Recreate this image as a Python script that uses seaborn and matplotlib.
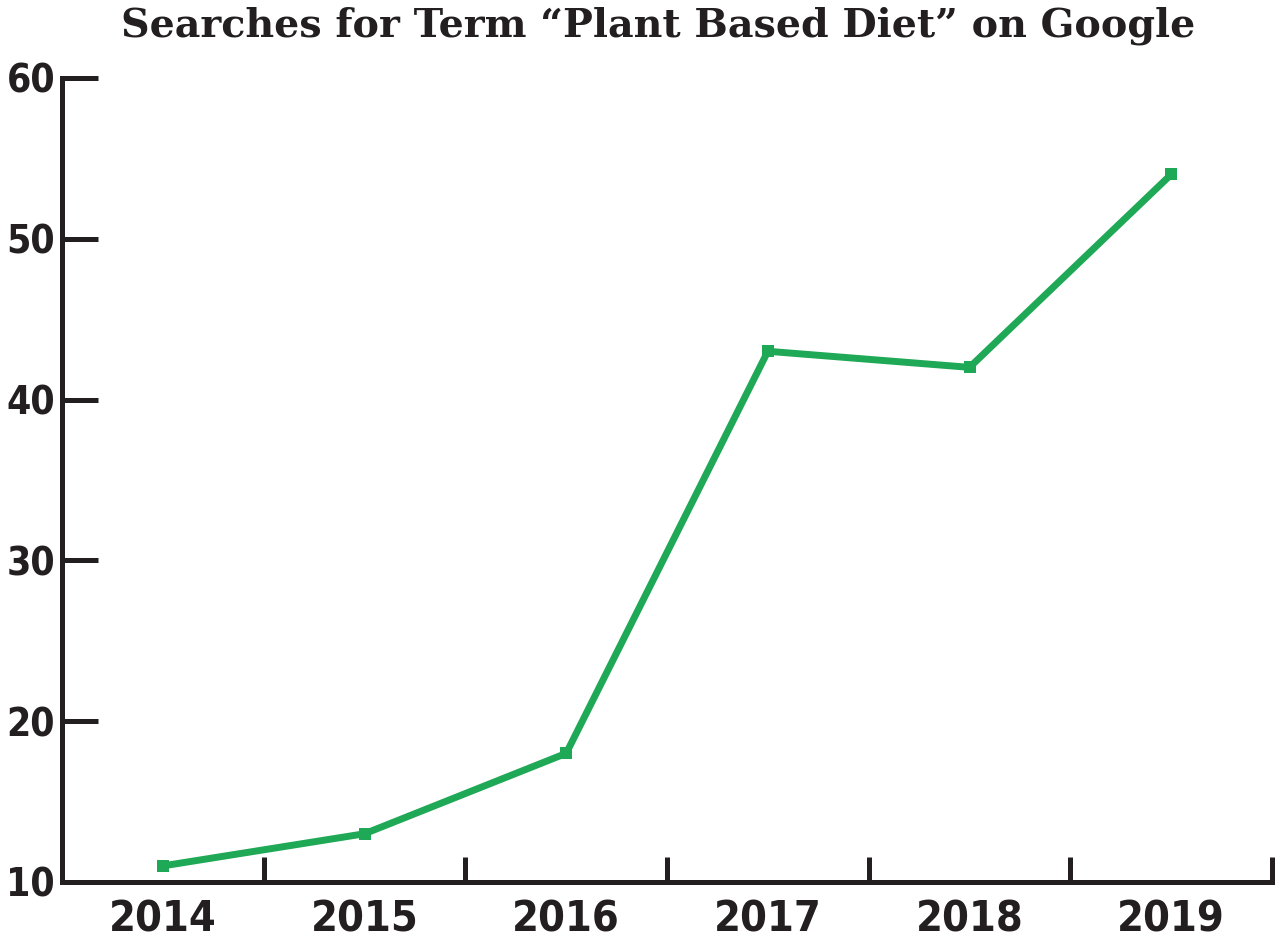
import numpy as np
import pandas as pd
import seaborn as sns
import matplotlib.pyplot as plt
from matplotlib.ticker import FixedLocator

years = [2014, 2015, 2016, 2017, 2018, 2019]
searches = [11, 13, 18, 43, 42, 54]
y_ticks = [10, 20, 30, 40, 50, 60]

green = "#1fa855"
ink = "#231f20"

sns.set_style("ticks")
plt.rcParams['font.family'] = ['DejaVu Sans']

df = pd.DataFrame({"year": years, "searches": searches})

fig = plt.figure(figsize=(12.77, 9.5), dpi=100)
ax = fig.add_axes([0.0486, 0.0716, 0.9475, 0.8464])

sns.lineplot(data=df, x="year", y="searches", ax=ax, color=green, linewidth=5,
             marker="s", markersize=9, markeredgewidth=0, markerfacecolor=green)

ax.set_xlim(years[0] - 0.5, years[-1] + 0.5)
ax.set_ylim(y_ticks[0], y_ticks[-1])
ax.set_xticks(years)
ax.set_xticklabels([str(y) for y in years])
ax.xaxis.set_minor_locator(FixedLocator(np.arange(years[0] - 0.5, years[-1] + 1, 1.0)))
ax.set_yticks(y_ticks)

for side in ["top", "right"]:
    ax.spines[side].set_visible(False)
for side in ["left", "bottom"]:
    ax.spines[side].set_linewidth(3.6)
    ax.spines[side].set_color(ink)

ax.tick_params(axis="x", which="major", bottom=True, length=0, pad=12, labelsize=31, labelcolor=ink)
ax.tick_params(axis="x", which="minor", bottom=True, direction="in", length=18, width=3.6, color=ink)
ax.tick_params(axis="y", which="major", left=True, direction="in", length=26, width=3.6, color=ink,
               pad=5, labelsize=28, labelcolor=ink)
for lbl in ax.get_xticklabels() + ax.get_yticklabels():
    lbl.set_fontweight("bold")
    lbl.set_fontstretch("condensed")

ax.set_xlabel("")
ax.set_ylabel("")
ax.grid(False)

fig.text(0.515, 0.993, "Searches for Term \u201cPlant Based Diet\u201d on Google",
         ha="center", va="top", fontsize=28.5, fontweight="bold",
         family=["DejaVu Serif"], color=ink)

fig.savefig("out.png", dpi=100, facecolor="white")
